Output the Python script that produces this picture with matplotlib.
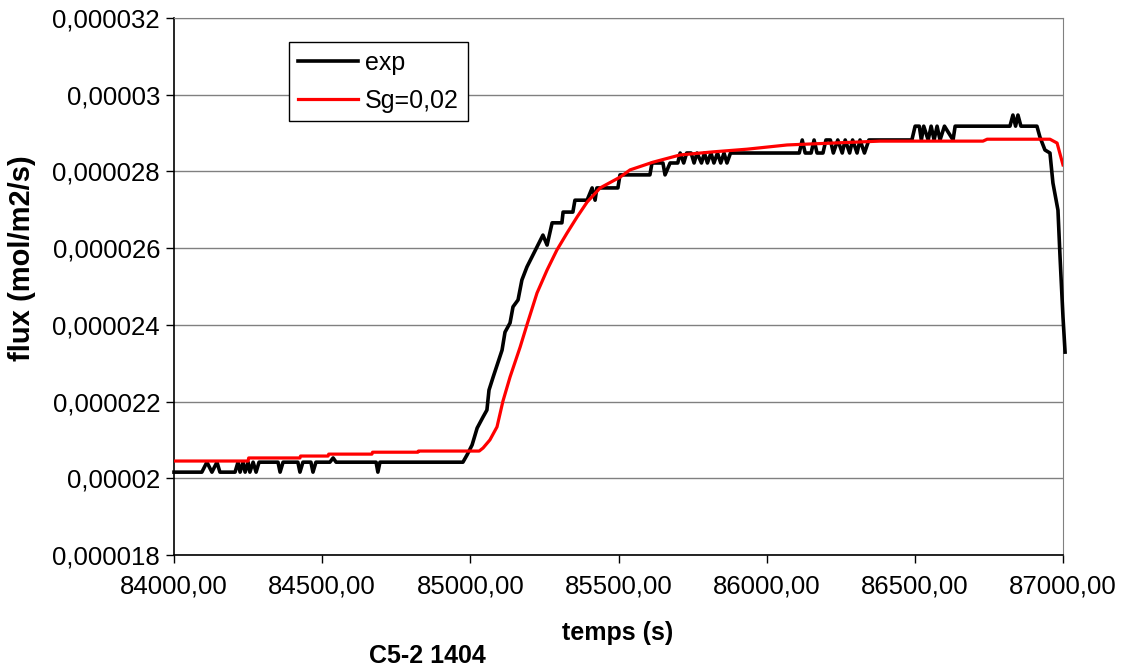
import numpy as np
import matplotlib
matplotlib.use('Agg')
import matplotlib.pyplot as plt
from matplotlib.ticker import FuncFormatter, MultipleLocator

plt.rcParams['font.family'] = ['Liberation Sans', 'DejaVu Sans']

# experimental flux (values in 1e-5 mol/m2/s)
t_exp = [84000, 84094, 84111, 84128, 84145, 84155, 84206, 84216, 84223, 84233,
         84240, 84250, 84256, 84267, 84277, 84287, 84351, 84358, 84368, 84418,
         84425, 84435, 84462, 84469, 84479, 84526, 84537, 84547, 84682, 84688,
         84695, 84975, 84989, 85006, 85023, 85043, 85056, 85063, 85077, 85093,
         85107, 85117, 85134, 85144, 85161, 85174, 85191, 85208, 85225, 85245,
         85259, 85276, 85309, 85313, 85346, 85353, 85394, 85411, 85421, 85427,
         85498, 85505, 85606, 85613, 85650, 85657, 85674, 85700, 85708, 85720,
         85730, 85745, 85755, 85765, 85780, 85790, 85800, 85812, 85822, 85834,
         85845, 85856, 85866, 85878, 86110, 86120, 86130, 86150, 86160, 86170,
         86190, 86200, 86215, 86225, 86240, 86255, 86265, 86280, 86290, 86305,
         86315, 86330, 86345, 86490, 86501, 86515, 86522, 86530, 86545, 86555,
         86565, 86575, 86585, 86600, 86629, 86636, 86821, 86831, 86840, 86848,
         86858, 86912, 86922, 86939, 86956, 86966, 86983, 86990, 87000, 87007]
v_exp = [2.016, 2.016, 2.042, 2.016, 2.042, 2.016, 2.016, 2.042, 2.016, 2.042,
         2.016, 2.042, 2.016, 2.042, 2.016, 2.042, 2.042, 2.016, 2.042, 2.042,
         2.016, 2.042, 2.042, 2.016, 2.042, 2.042, 2.053, 2.042, 2.042, 2.016,
         2.042, 2.042, 2.061, 2.087, 2.131, 2.160, 2.178, 2.230, 2.264, 2.301,
         2.334, 2.381, 2.405, 2.447, 2.465, 2.517, 2.551, 2.577, 2.603, 2.634,
         2.608, 2.666, 2.666, 2.694, 2.694, 2.725, 2.725, 2.757, 2.725, 2.757,
         2.757, 2.791, 2.791, 2.822, 2.822, 2.791, 2.822, 2.822, 2.848, 2.822,
         2.848, 2.848, 2.822, 2.848, 2.822, 2.848, 2.822, 2.848, 2.822, 2.848,
         2.822, 2.848, 2.822, 2.848, 2.848, 2.882, 2.848, 2.848, 2.882, 2.848,
         2.848, 2.882, 2.882, 2.848, 2.882, 2.848, 2.882, 2.848, 2.882, 2.848,
         2.882, 2.848, 2.882, 2.882, 2.918, 2.918, 2.882, 2.918, 2.882, 2.918,
         2.882, 2.918, 2.882, 2.918, 2.882, 2.918, 2.918, 2.947, 2.918, 2.947,
         2.918, 2.918, 2.890, 2.856, 2.848, 2.770, 2.699, 2.577, 2.420, 2.329]

# model Sg=0,02
t_sim = [84000, 84250, 84252, 84425, 84427, 84520, 84522, 84668, 84670, 84823,
         84825, 85030, 85043, 85066, 85090, 85110, 85134, 85168, 85191, 85225,
         85259, 85292, 85326, 85360, 85394, 85438, 85505, 85539, 85616, 85708,
         85819, 85934, 86069, 86224, 86382, 86730, 86744, 86956, 86980, 87000]
v_sim = [2.045, 2.045, 2.053, 2.053, 2.058, 2.058, 2.063, 2.063, 2.068, 2.068,
         2.071, 2.071, 2.079, 2.100, 2.134, 2.201, 2.264, 2.342, 2.400, 2.483,
         2.543, 2.595, 2.639, 2.681, 2.720, 2.757, 2.785, 2.804, 2.824, 2.843,
         2.851, 2.858, 2.869, 2.874, 2.879, 2.879, 2.884, 2.884, 2.874, 2.817]

yticks = [0.000018, 0.00002, 0.000022, 0.000024, 0.000026, 0.000028, 0.00003, 0.000032]

fig = plt.figure(figsize=(11.24, 6.69), dpi=100)
ax = fig.add_axes([174 / 1124, 1 - 555 / 669, 889 / 1124, 537 / 669])

ax.plot(t_exp, np.array(v_exp) * 1e-5, color='black', lw=2.6, label='exp',
        clip_on=False, zorder=3)
ax.plot(t_sim, np.array(v_sim) * 1e-5, color='#ff0000', lw=2.3, label='Sg=0,02',
        zorder=4)

ax.set_xlim(84000, 87000)
ax.set_ylim(0.000018, 0.000032)
ax.xaxis.set_major_locator(MultipleLocator(500))
ax.set_yticks(yticks)
ax.xaxis.set_major_formatter(FuncFormatter(lambda v, p: f"{v:.2f}".replace('.', ',')))
ax.yaxis.set_major_formatter(
    FuncFormatter(lambda v, p: f"{v:.6f}".rstrip('0').replace('.', ',')))

ax.grid(axis='y', color='#808080', lw=1)
ax.set_axisbelow(True)
for s in ['top', 'right']:
    ax.spines[s].set_color('#808080')
for s in ['left', 'bottom']:
    ax.spines[s].set_color('black')
    ax.spines[s].set_linewidth(1.2)
ax.tick_params(direction='out', length=6, width=1, labelsize=18.5)
ax.tick_params(axis='x', pad=8)
ax.tick_params(axis='y', pad=4)

fig.text(618 / 1124, 1 - 633 / 669, 'temps (s)', ha='center', va='center',
         fontsize=18, fontweight='bold')
fig.text(22 / 1124, 1 - 258 / 669, 'flux (mol/m2/s)', ha='center', va='center',
         rotation=90, fontsize=21, fontweight='bold')
fig.text(427 / 1124, 1 - 656 / 669, 'C5-2 1404', ha='center', va='center',
         fontsize=18, fontweight='bold')

leg = ax.legend(loc='upper left', bbox_to_anchor=(0.1294, 0.9553), borderaxespad=0,
                fontsize=18, frameon=True, fancybox=False, handlelength=2.4,
                borderpad=0.35, labelspacing=0.55, handletextpad=0.3)
leg.get_frame().set_edgecolor('black')
leg.get_frame().set_linewidth(1)
leg.get_frame().set_alpha(1)

fig.savefig('out.png', dpi=100)
